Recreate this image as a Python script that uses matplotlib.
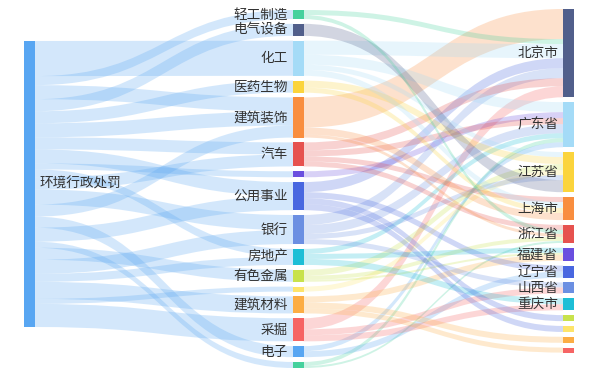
import matplotlib
matplotlib.use("Agg")
import matplotlib.pyplot as plt
from matplotlib.path import Path
from matplotlib.patches import PathPatch, Rectangle

plt.rcParams['font.family'] = ['Noto Sans CJK SC', 'DejaVu Sans']

# nodes, column by column
source_nodes = ["环境行政处罚"]
industry_nodes = ["轻工制造", "电气设备", "化工", "医药生物", "建筑装饰", "汽车", "计算机",
                  "公用事业", "银行", "房地产", "有色金属", "钢铁", "建筑材料", "采掘", "电子", "农林牧渔"]
region_nodes = ["北京市", "广东省", "江苏省", "上海市", "浙江省", "福建省", "辽宁省", "山西省",
                "重庆市", "河北省", "山东省", "四川省", "湖北省"]

# 环境行政处罚 -> 行业 (data order, some industries appear more than once)
penalty_targets = ["化工", "轻工制造", "建筑装饰", "电气设备", "医药生物", "建筑装饰", "汽车",
                   "公用事业", "计算机", "房地产", "汽车", "银行", "建筑装饰", "电子", "公用事业",
                   "农林牧渔", "有色金属", "银行", "房地产", "建筑材料", "钢铁", "采掘"]
penalty_values = [35, 9, 14, 12, 12, 14, 12,
                  14, 6, 8, 12, 15, 12, 11, 14,
                  6, 12, 14, 8, 17, 5, 23]

# 行业 -> 地区
flow_sources = ["建筑装饰", "轻工制造", "化工", "公用事业", "银行", "汽车", "采掘",
                "化工", "计算机", "汽车", "银行", "房地产", "农林牧渔", "电子",
                "化工", "医药生物", "有色金属", "钢铁", "银行", "电气设备",
                "汽车", "化工", "医药生物", "建筑装饰",
                "汽车", "轻工制造", "建筑装饰", "有色金属", "农林牧渔",
                "房地产", "有色金属", "建筑材料",
                "公用事业", "电子",
                "银行", "采掘",
                "房地产", "采掘",
                "公用事业", "公用事业", "建筑材料", "建筑材料"]
flow_targets = ["北京市"] * 7 + ["广东省"] * 7 + ["江苏省"] * 6 + ["上海市"] * 4 + \
               ["浙江省"] * 5 + ["福建省"] * 3 + ["辽宁省"] * 2 + ["山西省"] * 2 + \
               ["重庆市"] * 2 + ["河北省", "山东省", "四川省", "湖北省"]
flow_values = [30, 5, 14, 10, 10, 8, 11,
               10, 6, 6, 9, 5, 4, 5,
               5, 7, 6, 5, 5, 12,
               5, 6, 5, 7,
               5, 4, 3, 4, 2,
               5, 2, 6,
               6, 6,
               5, 6,
               6, 6,
               6, 6, 6, 5]

palette = ['#58a6f2', '#45d19d', '#515f8b', '#a4dbf7', '#fbd43c', '#f98e3f', '#e6524f',
           '#6a4fdf', '#4967e0', '#6b8fe2', '#1dbed6', '#c8e24c', '#fde46a', '#fcad44', '#f66464']

links = [("环境行政处罚", t, v) for t, v in zip(penalty_targets, penalty_values)]
links += list(zip(flow_sources, flow_targets, flow_values))

columns = [source_nodes, industry_nodes, region_nodes]
all_nodes = source_nodes + industry_nodes + region_nodes
color = {n: palette[i % len(palette)] for i, n in enumerate(all_nodes)}

out_sum = {n: 0 for n in all_nodes}
in_sum = {n: 0 for n in all_nodes}
for s, t, v in links:
    out_sum[s] += v
    in_sum[t] += v
value = {n: max(out_sum[n], in_sum[n]) for n in all_nodes}

# layout
col_x = [24, 293, 563]
col_top = [41, 10, 9]
node_w = 10.5
gap = 4.8
ky = (358 - (len(industry_nodes) - 1) * gap) / sum(value[n] for n in industry_nodes)

node_x, node_y = {}, {}
for ci, col in enumerate(columns):
    y = col_top[ci]
    for n in col:
        node_x[n] = col_x[ci]
        node_y[n] = y
        y += value[n] * ky + gap

fig = plt.figure(figsize=(6, 3.78), dpi=100)
ax = fig.add_axes([0, 0, 1, 1])
ax.set_xlim(0, 600)
ax.set_ylim(378, 0)
ax.axis('off')

out_off = {n: 0.0 for n in all_nodes}
in_off = {n: 0.0 for n in all_nodes}
for s, t, v in links:
    h = v * ky
    x0 = node_x[s] + node_w
    x1 = node_x[t]
    xm = (x0 + x1) / 2
    sy = node_y[s] + out_off[s]
    ty = node_y[t] + in_off[t]
    out_off[s] += h
    in_off[t] += h
    verts = [(x0, sy), (xm, sy), (xm, ty), (x1, ty),
             (x1, ty + h), (xm, ty + h), (xm, sy + h), (x0, sy + h), (x0, sy)]
    codes = [Path.MOVETO, Path.CURVE4, Path.CURVE4, Path.CURVE4,
             Path.LINETO, Path.CURVE4, Path.CURVE4, Path.CURVE4, Path.CLOSEPOLY]
    ax.add_patch(PathPatch(Path(verts, codes), facecolor=color[s], edgecolor='none',
                           alpha=0.26, zorder=1))

for n in all_nodes:
    h = value[n] * ky
    ax.add_patch(Rectangle((node_x[n], node_y[n]), node_w, h, facecolor=color[n],
                           edgecolor='none', zorder=2))
    # small nodes have their labels hidden
    if value[n] < 7:
        continue
    cy = node_y[n] + h / 2
    if n in source_nodes:
        ax.text(node_x[n] + node_w + 5, cy, n, ha='left', va='center', fontsize=9.8,
                color='#333333', zorder=3)
    else:
        ax.text(node_x[n] - 5, cy, n, ha='right', va='center', fontsize=9.8,
                color='#333333', zorder=3)

fig.savefig('out.png', dpi=100)
